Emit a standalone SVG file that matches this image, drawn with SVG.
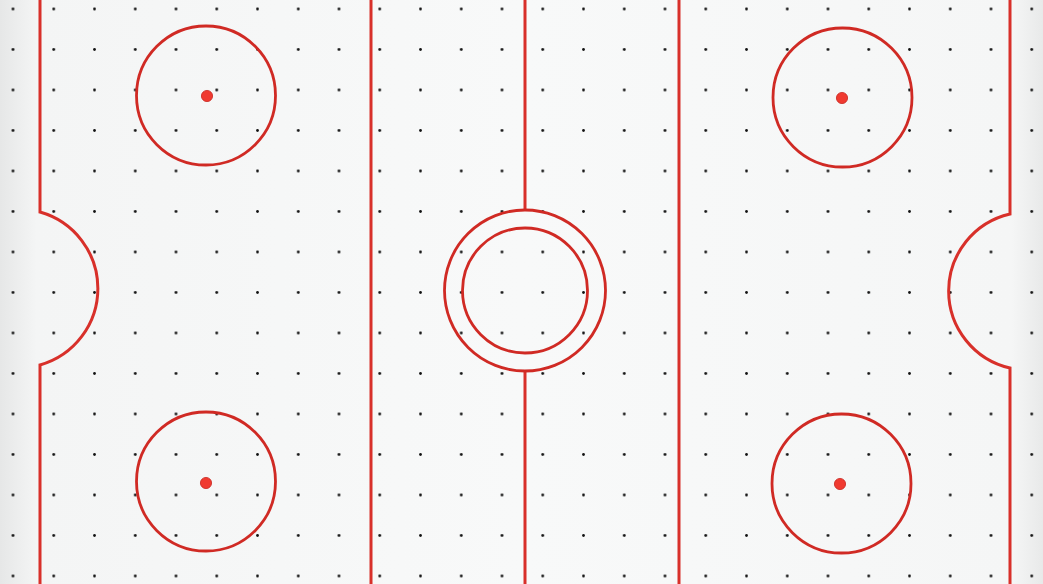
<svg xmlns="http://www.w3.org/2000/svg" width="1043" height="584" viewBox="0 0 1043 584">
  <defs>
    <linearGradient id="bg" x1="0" y1="0" x2="1" y2="0">
      <stop offset="0" stop-color="#e6e7e7"/>
      <stop offset="0.035" stop-color="#f4f5f5"/>
      <stop offset="0.5" stop-color="#f8f9f9"/>
      <stop offset="0.97" stop-color="#f5f6f6"/>
      <stop offset="1" stop-color="#e8e9e9"/>
    </linearGradient>
    <pattern id="dots" patternUnits="userSpaceOnUse" x="-7.375" y="-11.25" width="40.75" height="40.5">
      <circle cx="20.375" cy="20.25" r="1.4" fill="#111"/>
    </pattern>
    <style>
      .ln { stroke: #d8302a; stroke-width: 3; fill: none; }
      .ci { stroke: #d02a24; stroke-width: 2.8; fill: none; }
      .spot { fill: #f03a30; stroke: #c8261f; stroke-width: 0.8; }
    </style>
  </defs>
  <rect x="0" y="0" width="1043" height="584" fill="url(#bg)"/>
  <rect x="0" y="0" width="1043" height="584" fill="url(#dots)"/>

  <g id="left-goal">
    <path class="ln" d="M40 0 L40 212 A79.5 79.5 0 0 1 40 365 L40 584"/>
  </g>
  <g id="right-goal">
    <path class="ln" d="M1010 0 L1010 214 A79 79 0 0 0 1010 368 L1010 584"/>
  </g>
  <g id="blue-line-left">
    <line class="ln" x1="371" y1="0" x2="371" y2="584"/>
  </g>
  <g id="blue-line-right">
    <line class="ln" x1="679" y1="0" x2="679" y2="584"/>
  </g>
  <g id="center-line">
    <line class="ln" x1="525" y1="0" x2="525" y2="210"/>
    <line class="ln" x1="525" y1="371" x2="525" y2="584"/>
  </g>
  <g id="center-circle">
    <circle class="ci" cx="525" cy="290.5" r="80.5"/>
    <circle class="ci" cx="525" cy="290.5" r="62.5"/>
  </g>
  <g id="faceoff-top-left">
    <circle class="ci" cx="206" cy="95.5" r="69.5"/>
    <circle class="spot" cx="207" cy="96" r="5.6"/>
  </g>
  <g id="faceoff-bottom-left">
    <circle class="ci" cx="206" cy="481.5" r="69.5"/>
    <circle class="spot" cx="206" cy="483" r="5.6"/>
  </g>
  <g id="faceoff-top-right">
    <circle class="ci" cx="842.5" cy="97.5" r="69.5"/>
    <circle class="spot" cx="842" cy="98" r="5.6"/>
  </g>
  <g id="faceoff-bottom-right">
    <circle class="ci" cx="841.5" cy="483.5" r="69.5"/>
    <circle class="spot" cx="840" cy="484" r="5.6"/>
  </g>
</svg>
